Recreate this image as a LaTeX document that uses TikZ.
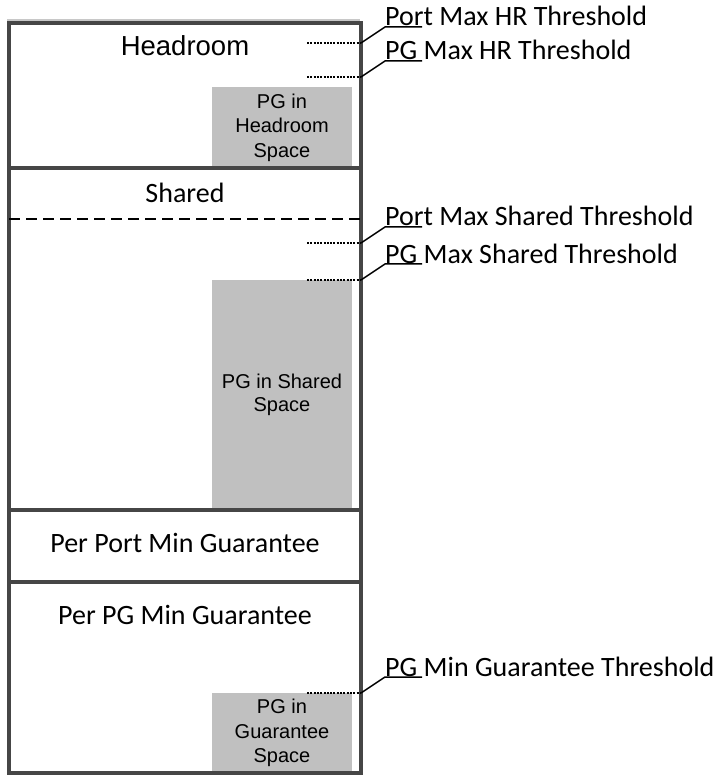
\documentclass[tikz,border=0pt]{standalone}
\usepackage{fontspec}
\setmainfont{Carlito}
\newfontfamily\arialfont{Liberation Sans}
\usetikzlibrary{calc}
\definecolor{framegrey}{HTML}{464646}
\definecolor{spacegrey}{HTML}{C0C0C0}
\definecolor{rulegrey}{HTML}{C8C8C8}

\tikzset{
  pgbox/.style={fill=spacegrey, minimum width=140pt, inner sep=0pt, align=center,
                font=\arialfont\fontsize{20}{24.5}\selectfont},
  zonelabel/.style={anchor=base, inner sep=0pt, font=\fontsize{28}{34}\selectfont},
  thrlabel/.style={anchor=base west, inner sep=0pt, font=\fontsize{28}{34}\selectfont},
  frameline/.style={draw=framegrey, line width=3.4pt},
  tickline/.style={line width=2.4pt, dash pattern=on 2pt off 1.3pt},
  leader/.style={line width=1.5pt},
}

\begin{document}
\begin{tikzpicture}[x=1pt, y=-1pt]
  \useasboundingbox (0,0) rectangle (715,775);

  % grey PG spaces
  \node[pgbox, minimum height=81pt] (hrspace) at (282,127.5) {PG in\\Headroom\\Space};
  \node[pgbox, minimum height=230pt, font=\arialfont\fontsize{20}{23}\selectfont] (shspace) at (282,394.5) {PG in Shared\\Space};
  \node[pgbox, minimum height=80pt] (gspace) at (282,733) {PG in\\Guarantee\\Space};

  % buffer frame and zones
  \draw[rulegrey, line width=1.2pt] (7,20) -- (360,20);
  \draw[frameline] (9,23) rectangle (361,773);
  \draw[frameline] (9,168) -- (361,168);
  \draw[frameline] (9,510) -- (361,510);
  \draw[frameline] (9,582) -- (361,582);
  \draw[line width=2.6pt, dash pattern=on 11pt off 6pt] (9,219) -- (361,219);

  \node[zonelabel, font=\arialfont\fontsize{27.5}{33}\selectfont] (headroom) at (185,56) {Headroom};
  \node[zonelabel] (shared) at (185,203) {Shared};
  \node[zonelabel] (portmin) at (185,552) {Per Port Min Guarantee};
  \node[zonelabel] (pgmin) at (185,624) {Per PG Min Guarantee};

  % threshold callouts
  \foreach \ty/\lbl/\txt in {43/porthr/Port Max HR Threshold,
                             77/pghr/PG Max HR Threshold,
                             243/portsh/Port Max Shared Threshold,
                             280/pgsh/PG Max Shared Threshold,
                             693/pgguar/PG Min Guarantee Threshold}{
    \coordinate (\lbl-tick) at (307,\ty);
    \coordinate (\lbl-knee) at (361,\ty);
    \node[thrlabel] (\lbl) at (385,\ty-17) {\txt};
    \draw[tickline] (\lbl-tick) -- (\lbl-knee);
    \draw[leader] (\lbl-knee) -- ($(\lbl.base west)+(0,1)$) -- ++(37,0);
  }
\end{tikzpicture}
\end{document}
